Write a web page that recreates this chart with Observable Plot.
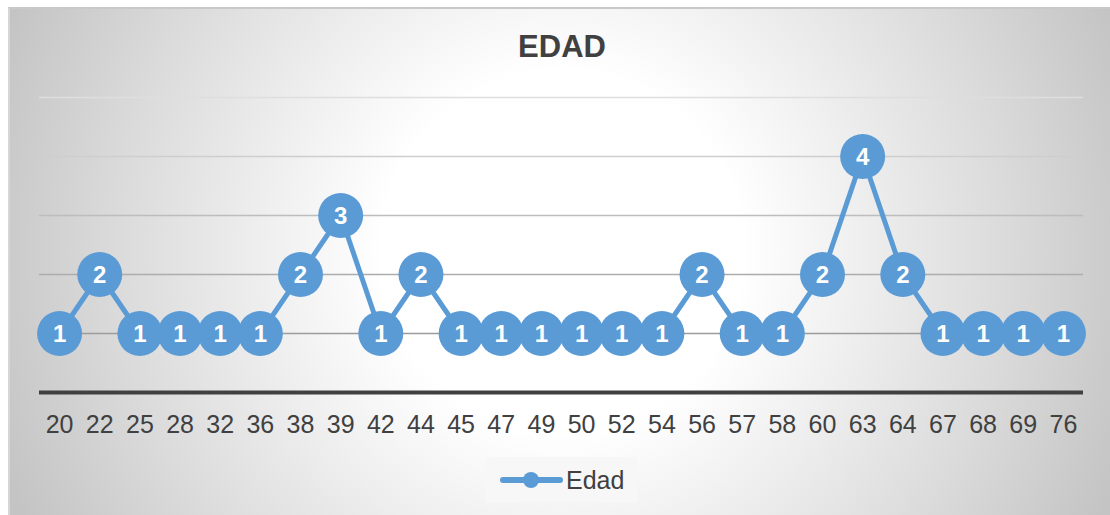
<!DOCTYPE html>
<html>
<head>
<meta charset="utf-8">
<script src="https://cdn.jsdelivr.net/npm/d3@7"></script>
<script src="https://cdn.jsdelivr.net/npm/@observablehq/plot@0.6"></script>
<style>
  html, body { margin: 0; padding: 0; background: #ffffff; }
  body { width: 1110px; height: 515px; overflow: hidden; font-family: "Liberation Sans", Arial, sans-serif; }
  #frame {
    position: absolute; left: 8px; top: 7px; width: 1102px; height: 508px;
    box-sizing: border-box;
    border-top: 2px solid #c9c9c9; border-left: 2px solid #d6d6d6;
    background: radial-gradient(circle 600px at 552px 243px, #ffffff 0%, #ffffff 30%, #dadada 75%, #c4c4c4 100%);
  }
  #chart { position: absolute; left: 0; top: 0; width: 1110px; height: 515px; }
  #title {
    height: 80px; line-height: 94px; text-align: center;
    font-size: 31px; font-weight: bold; color: #404040; padding-left: 14px;
  }
  #plot svg { display: block; }
  #legend {
    position: absolute; left: 485px; top: 457px; width: 152px; height: 46px;
    background: #f7f7f7; display: flex; align-items: center;
  }
  #legend span { font-size: 25px; color: #404040; margin-left: 3px; }
</style>
</head>
<body>
<div id="frame"></div>
<div id="chart">
  <div id="title">EDAD</div>
  <div id="plot"></div>
  <div id="legend"></div>
</div>
<script>
const edades = ["20","22","25","28","32","36","38","39","42","44","45","47","49","50","52","54","56","57","58","60","63","64","67","68","69","76"];
const frecuencia = [1,2,1,1,1,1,2,3,1,2,1,1,1,1,1,1,2,1,1,2,4,2,1,1,1,1];
const serieNombre = "Edad";
const gridValues = [1,2,3,4,5];

const data = edades.map((e, i) => ({edad: e, n: frecuencia[i]}));
const azul = "#5b9bd5";
const gridColor = d3.interpolateRgb("#9c9c9c", "#dedede");

const chart = Plot.plot({
  width: 1110,
  height: 370,
  marginLeft: 39,
  marginRight: 27,
  marginTop: 17,
  marginBottom: 58,
  style: {background: "transparent", fontFamily: "Liberation Sans, Arial, sans-serif", overflow: "visible"},
  x: {type: "point", domain: edades, padding: 0.5, round: false, label: null},
  y: {domain: [0, 5], axis: null},
  marks: [
    Plot.ruleY(gridValues, {stroke: d => gridColor((d - 1) / 4), strokeWidth: 1.3}),
    Plot.ruleY([0], {stroke: "#404040", strokeWidth: 4}),
    Plot.axisX({tickSize: 0, tickPadding: 23, fontSize: 25, color: "#404040", label: null}),
    Plot.line(data, {x: "edad", y: "n", stroke: azul, strokeWidth: 5, strokeLinejoin: "round"}),
    Plot.dot(data, {x: "edad", y: "n", r: 22.5, fill: azul, stroke: "none"}),
    Plot.text(data, {x: "edad", y: "n", text: d => String(d.n), fill: "white", fontSize: 24, fontWeight: "bold", lineAnchor: "middle", dy: 1})
  ]
});
document.getElementById("plot").appendChild(chart);

// legend
const leg = document.getElementById("legend");
const ns = "http://www.w3.org/2000/svg";
const ls = document.createElementNS(ns, "svg");
ls.setAttribute("width", "78"); ls.setAttribute("height", "46");
const ln = document.createElementNS(ns, "line");
ln.setAttribute("x1", "18"); ln.setAttribute("x2", "75"); ln.setAttribute("y1", "23"); ln.setAttribute("y2", "23");
ln.setAttribute("stroke", azul); ln.setAttribute("stroke-width", "6"); ln.setAttribute("stroke-linecap", "round");
const cc = document.createElementNS(ns, "circle");
cc.setAttribute("cx", "46"); cc.setAttribute("cy", "23"); cc.setAttribute("r", "8"); cc.setAttribute("fill", azul);
ls.appendChild(ln); ls.appendChild(cc);
leg.appendChild(ls);
const sp = document.createElement("span"); sp.textContent = serieNombre;
leg.appendChild(sp);
</script>
</body>
</html>
